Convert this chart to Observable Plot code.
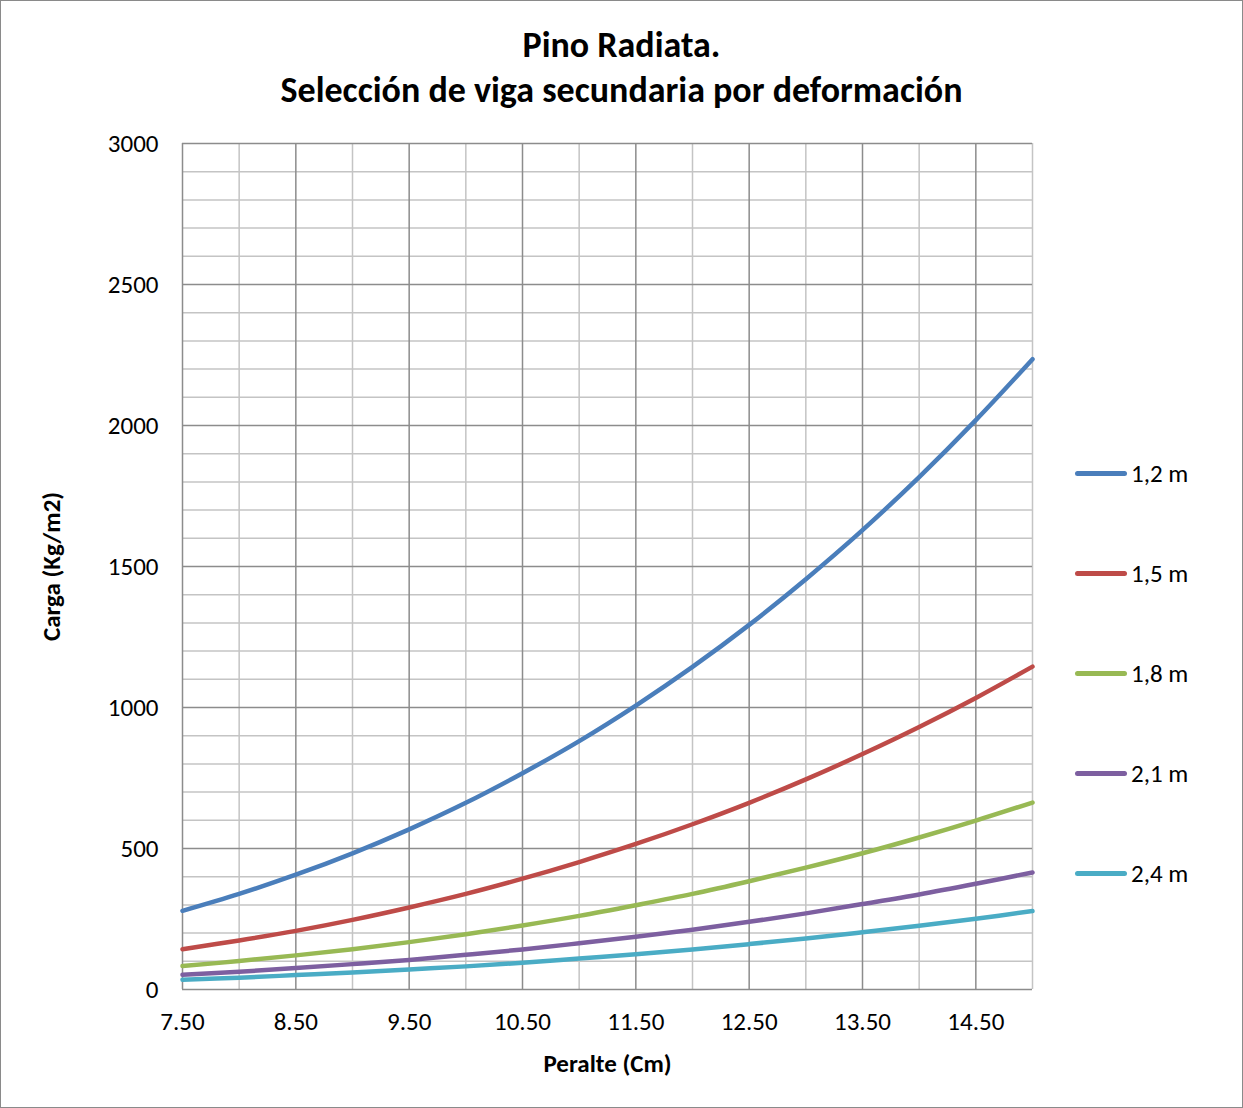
<!DOCTYPE html>
<html>
<head>
<meta charset="utf-8">
<script src="https://cdn.jsdelivr.net/npm/d3@7"></script>
<script src="https://cdn.jsdelivr.net/npm/@observablehq/plot@0.6"></script>
<style>
  html, body { margin: 0; padding: 0; background: #fff; }
  body { font-family: Carlito, Lato, "Open Sans", sans-serif; }
  #wrap { position: relative; width: 1243px; height: 1108px; box-sizing: border-box; border: 1.5px solid #8a8a8a; overflow: hidden; }
  #title { height: 113px; box-sizing: border-box; padding-top: 22px; text-align: center; font-weight: bold; font-size: 36px; line-height: 45px; color: #000; }
  #chart svg { display: block; }
  #legend { position: absolute; left: 1074px; top: 422px; }
  .item { height: 100px; display: flex; align-items: center; font-size: 25px; color: #000; }
  .swatch { width: 52px; height: 5px; border-radius: 2.5px; margin-right: 4px; }
</style>
</head>
<body>
<div id="wrap">
  <div id="title">Pino Radiata.<br>Selección de viga secundaria por deformación</div>
  <div id="chart"></div>
  <div id="legend"></div>
</div>
<script>
// Peralte (cm)
const peralte = [7.5, 8, 8.5, 9, 9.5, 10, 10.5, 11, 11.5, 12, 12.5, 13, 13.5, 14, 14.5, 15];
// Carga (Kg/m2) for each span
const carga12 = [279, 339, 407, 483, 568, 662, 767, 881, 1007, 1144, 1293, 1455, 1629, 1817, 2019, 2235];
const carga15 = [143, 174, 208, 247, 291, 339, 393, 452, 516, 586, 662, 745, 835, 931, 1034, 1145];
const carga18 = [83, 101, 121, 143, 168, 196, 227, 261, 299, 339, 384, 432, 483, 539, 599, 663];
const carga21 = [52, 63, 76, 90, 105, 123, 142, 164, 187, 212, 240, 270, 303, 337, 375, 415];
const carga24 = [35, 42, 51, 60, 71, 82, 95, 110, 125, 142, 161, 181, 203, 226, 251, 278];
const seriesNames = ["1,2 m", "1,5 m", "1,8 m", "2,1 m", "2,4 m"];
const seriesColors = ["#4a7ebb", "#be4b48", "#98b954", "#7d5fa0", "#4aacc5"];
const xTicks = [7.5, 8.5, 9.5, 10.5, 11.5, 12.5, 13.5, 14.5];
const yTicks = [0, 500, 1000, 1500, 2000, 2500, 3000];
const xMinor = [8, 9, 10, 11, 12, 13, 14, 15];
const yMinor = [100, 200, 300, 400, 600, 700, 800, 900, 1100, 1200, 1300, 1400, 1600, 1700, 1800, 1900, 2100, 2200, 2300, 2400, 2600, 2700, 2800, 2900];

const allSeries = [carga12, carga15, carga18, carga21, carga24];
const data = [];
allSeries.forEach((vals, i) => {
  vals.forEach((v, j) => data.push({peralte: peralte[j], carga: v, serie: seriesNames[i]}));
});

const minorColor = "#c4c4c4";
const majorColor = "#8c8c8c";
const FONT = "Carlito, Lato, 'Open Sans', sans-serif";

const plot = Plot.plot({
  width: 1240,
  height: 993,
  marginLeft: 181,
  marginRight: 209,
  marginTop: 29,
  marginBottom: 118,
  style: { fontFamily: FONT, fontSize: "25px", color: "#000", background: "#fff" },
  x: { domain: [7.5, 15], ticks: xTicks, tickFormat: d3.format(".2f") },
  y: { domain: [0, 3000], ticks: yTicks, tickFormat: d3.format("d") },
  color: { domain: seriesNames, range: seriesColors },
  marks: [
    Plot.ruleX(xMinor, { stroke: minorColor, strokeWidth: 1.5 }),
    Plot.ruleY(yMinor, { stroke: minorColor, strokeWidth: 1.5 }),
    Plot.ruleX(xTicks, { stroke: majorColor, strokeWidth: 1.5 }),
    Plot.ruleY(yTicks, { stroke: majorColor, strokeWidth: 1.5 }),
    Plot.axisX({ ticks: xTicks, tickFormat: d3.format(".2f"), tickSize: 0, tickPadding: 23, fontSize: 25,
      label: "Peralte (Cm)", labelAnchor: "center", labelArrow: "none", labelOffset: 82 }),
    Plot.axisY({ ticks: yTicks, tickFormat: d3.format("d"), tickSize: 0, tickPadding: 24, fontSize: 25,
      label: "Carga (Kg/m2)", labelAnchor: "center", labelArrow: "none", labelOffset: 140 }),
    Plot.line(data, { x: "peralte", y: "carga", stroke: "serie", z: "serie", strokeWidth: 4.5, curve: "catmull-rom", strokeLinecap: "round" })
  ]
});
// bold axis labels
plot.querySelectorAll("[aria-label='x-axis label'] text, [aria-label='y-axis label'] text").forEach(t => { t.setAttribute("font-weight", "bold"); });
document.getElementById("chart").appendChild(plot);

const legend = d3.select("#legend");
seriesNames.forEach((name, i) => {
  const item = legend.append("div").attr("class", "item");
  item.append("div").attr("class", "swatch").style("background", seriesColors[i]);
  item.append("span").text(name);
});
</script>
</body>
</html>
